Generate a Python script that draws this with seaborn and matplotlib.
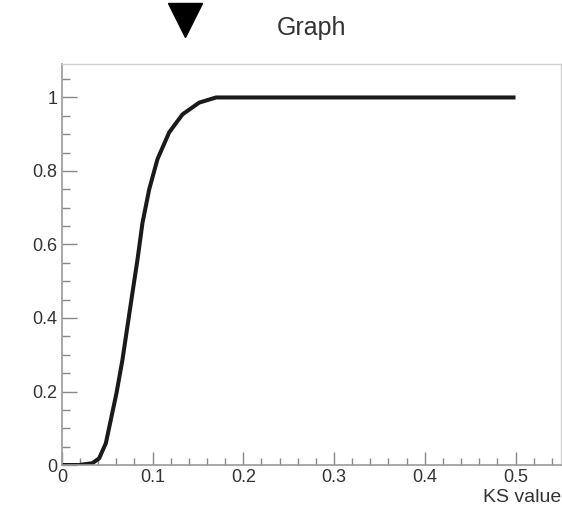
import matplotlib
matplotlib.use("Agg")
import matplotlib.pyplot as plt
from matplotlib.ticker import MultipleLocator, FixedLocator
import seaborn as sns
import pandas as pd

# Data
ks_value = [0.0, 0.019, 0.0337, 0.0411, 0.0485, 0.054, 0.0602, 0.0668, 0.0723,
            0.0778, 0.0834, 0.0889, 0.0963, 0.1054, 0.1183, 0.133, 0.1514,
            0.170, 0.2, 0.3, 0.4, 0.5]
cdf = [0.0, 0.0, 0.005, 0.018, 0.059, 0.123, 0.195, 0.286, 0.377,
       0.468, 0.559, 0.659, 0.750, 0.832, 0.905, 0.954, 0.986,
       1.0, 1.0, 1.0, 1.0, 1.0]
observed_ks = [0.136]
title = "Graph"
xlabel = "KS value"
xticks = [0, 0.1, 0.2, 0.3, 0.4, 0.5]
xticklabels = ["0", "0.1", "0.2", "0.3", "0.4", "0.5"]
yticks = [0, 0.2, 0.4, 0.6, 0.8, 1.0]
yticklabels = ["0", "0.2", "0.4", "0.6", "0.8", "1"]

sns.set_theme(style="white")
plt.rcParams["font.family"] = ["Liberation Sans", "DejaVu Sans"]

df = pd.DataFrame({"ks": ks_value, "p": cdf})

fig = plt.figure(figsize=(5.62, 5.11), dpi=100)
ax = fig.add_axes([0.110, 0.090, 0.888, 0.784])

sns.lineplot(data=df, x="ks", y="p", ax=ax, sort=False, estimator=None,
             color="#1a1a1a", linewidth=2.9)
for ln in ax.lines:
    ln.set_solid_joinstyle("round")
    ln.set_solid_capstyle("butt")

ax.set_xlim(0, 0.55)
ax.set_ylim(0, 1.09)

ax.xaxis.set_major_locator(FixedLocator(xticks))
ax.set_xticklabels(xticklabels)
ax.yaxis.set_major_locator(FixedLocator(yticks))
ax.set_yticklabels(yticklabels)
ax.xaxis.set_minor_locator(MultipleLocator(0.02))
ax.yaxis.set_minor_locator(MultipleLocator(0.05))

ax.tick_params(axis="both", which="both", direction="in", colors="#888888",
               labelcolor="#333333", labelsize=13, width=1.0,
               bottom=True, left=True, top=False, right=False)
ax.tick_params(axis="x", which="major", length=9.5, pad=3)
ax.tick_params(axis="y", which="major", length=11, pad=3)
ax.tick_params(axis="x", which="minor", length=5)
ax.tick_params(axis="y", which="minor", length=5.5)

for s in ["left", "bottom"]:
    ax.spines[s].set_color("#999999")
    ax.spines[s].set_linewidth(1.2)
for s in ["top", "right"]:
    ax.spines[s].set_color("#d0d0d0")
    ax.spines[s].set_linewidth(1.0)

ax.set_xlabel(xlabel, loc="right", fontsize=14, color="#333333", labelpad=2)
ax.set_ylabel("")
ax.set_title(title, fontsize=18, color="#333333", pad=21)

# observed KS marker above the frame
ax.plot(observed_ks, [1.212], marker="v", markersize=25, color="black",
        linestyle="none", clip_on=False)

fig.savefig("out.png", dpi=100)
